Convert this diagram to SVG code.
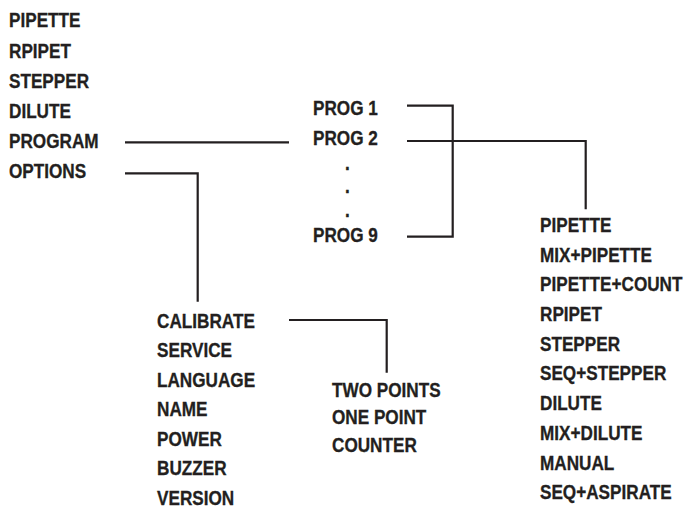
<svg xmlns="http://www.w3.org/2000/svg" width="686" height="509" viewBox="0 0 686 509">
<style>
text{font-family:"Liberation Sans",Arial,sans-serif;font-weight:bold;font-size:19.5px;fill:#231f20;stroke:#231f20;stroke-width:0.3;transform-box:fill-box;transform-origin:left;transform:scaleX(0.88)}
.ln{fill:none;stroke:#231f20;stroke-width:2.2}
</style>
<rect width="686" height="509" fill="#fff"/>
<g id="connectors">
<polyline class="ln" points="125,142.3 289,142.3"/>
<polyline class="ln" points="125,173.3 197.7,173.3 197.7,301.7"/>
<polyline class="ln" points="407,105.7 452.7,105.7 452.7,236.7 407,236.7"/>
<polyline class="ln" points="407,141 585.7,141 585.7,209.3"/>
<polyline class="ln" points="289,320 386.7,320 386.7,372.7"/>
</g>
<g id="main-menu">
<text x="9" y="27.5">PIPETTE</text>
<text x="9" y="58">RPIPET</text>
<text x="9" y="88">STEPPER</text>
<text x="9" y="118">DILUTE</text>
<text x="9" y="148">PROGRAM</text>
<text x="9" y="178">OPTIONS</text>
</g>
<g id="prog-menu">
<text x="313" y="115">PROG 1</text>
<text x="313" y="145">PROG 2</text>
<text x="345" y="170">.</text>
<text x="345" y="193">.</text>
<text x="345" y="217">.</text>
<text x="313" y="241.7">PROG 9</text>
</g>
<g id="prog-modes">
<text x="540" y="232">PIPETTE</text>
<text x="540" y="261.7">MIX+PIPETTE</text>
<text x="540" y="291.4">PIPETTE+COUNT</text>
<text x="540" y="321.1">RPIPET</text>
<text x="540" y="350.8">STEPPER</text>
<text x="540" y="380.5">SEQ+STEPPER</text>
<text x="540" y="410.2">DILUTE</text>
<text x="540" y="439.9">MIX+DILUTE</text>
<text x="540" y="469.6">MANUAL</text>
<text x="540" y="499.3">SEQ+ASPIRATE</text>
</g>
<g id="options-menu">
<text x="157" y="328">CALIBRATE</text>
<text x="157" y="357.5">SERVICE</text>
<text x="157" y="387">LANGUAGE</text>
<text x="157" y="416.5">NAME</text>
<text x="157" y="446">POWER</text>
<text x="157" y="475.5">BUZZER</text>
<text x="157" y="505">VERSION</text>
</g>
<g id="calibrate-menu">
<text x="332" y="397">TWO POINTS</text>
<text x="332" y="424.5">ONE POINT</text>
<text x="332" y="452">COUNTER</text>
</g>
</svg>
